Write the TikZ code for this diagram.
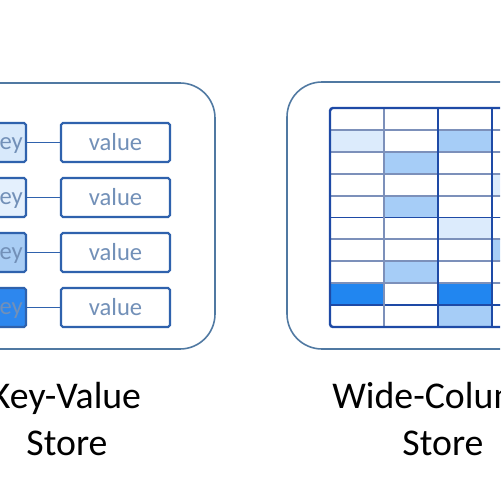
\documentclass[tikz,border=0pt]{standalone}
\usepackage{fontspec}
\setmainfont{Carlito}
\usetikzlibrary{positioning}
\definecolor{frame}{HTML}{5079A2}
\definecolor{boxline}{HTML}{2F62AD}
\definecolor{gridline}{HTML}{1E4AA6}
\definecolor{softline}{HTML}{7C90BA}
\definecolor{valtext}{HTML}{7290B8}
\definecolor{keyA}{HTML}{D8E9FB}
\definecolor{keyB}{HTML}{E4F0FD}
\definecolor{keyC}{HTML}{A9CDF4}
\definecolor{keyD}{HTML}{2D87EE}
\definecolor{paleblue}{HTML}{DCEBFC}
\definecolor{midblue}{HTML}{A6CDF7}
\definecolor{brightblue}{HTML}{2186F0}
\tikzset{
  storeframe/.style={draw=frame, line width=0.9pt, rounded corners=0.7cm},
  kvbox/.style={draw=boxline, line width=1.2pt, rounded corners=1pt,
    minimum height=0.78cm, inner sep=0pt, font=\fontsize{14}{16}\selectfont, text=valtext},
  keybox/.style={kvbox, minimum width=0.8cm},
  valuebox/.style={kvbox, fill=white, minimum width=2.18cm},
  link/.style={draw=boxline, line width=1pt},
  caption/.style={font=\fontsize{21.5}{26.6}\selectfont, text=black, inner sep=0pt, anchor=base}
}

\begin{document}
\begin{tikzpicture}[x=0.02cm, y=-0.02cm]
    \useasboundingbox (0,0) rectangle (500,500);
    \clip (0,0) rectangle (500,500);
    \fill[white] (0,0) rectangle (500,500);
    % key-value store
    \draw[storeframe] (-200,83) rectangle (215,349);
    \foreach \i/\keyfill in {0/keyA,1/keyB,2/keyC,3/keyD} {
      \node[keybox, fill=\keyfill] (key\i) at (6,{142.5+55*\i}) {key};
      \node[valuebox] (val\i) at (115.5,{142.5+55*\i}) {value};
      \draw[link] (key\i) -- (val\i);
    }
    \node[caption] (kvtitle) at (66,408) {Key-Value};
    \node[caption] (kvstore) at (67,455) {Store};
    % wide-column store
    \draw[storeframe] (287,82) rectangle (720,349);
    \foreach \c/\r/\cellfill in {1/2/paleblue,3/2/midblue,2/3/midblue,4/4/paleblue,
        2/5/midblue,3/6/paleblue,4/7/midblue,2/8/midblue,1/9/brightblue,
        3/9/brightblue,3/10/midblue}
      \fill[\cellfill] ({330+54*(\c-1)},{108+21.9*(\r-1)}) rectangle +(54,21.9);
    \foreach \r in {1,...,9}
      \draw[softline, line width=1.1pt] (330,{108+21.9*\r}) -- (560,{108+21.9*\r});
    \foreach \r in {5,9}
      \draw[gridline, line width=1.1pt] (330,{108+21.9*\r}) -- (560,{108+21.9*\r});
    \draw[softline, line width=1.2pt] (384,108) -- (384,327);
    \foreach \c in {2,3}
      \draw[gridline, line width=1.2pt] ({330+54*\c},108) -- ++(0,219);
    \draw[gridline, line width=1.4pt, rounded corners=0.06cm] (330,108) rectangle (560,327);
    \node[caption, anchor=base west] (wctitle) at (332,408) {Wide-Column};
    \node[caption] (wcstore) at (443,455) {Store};
\end{tikzpicture}
\end{document}
